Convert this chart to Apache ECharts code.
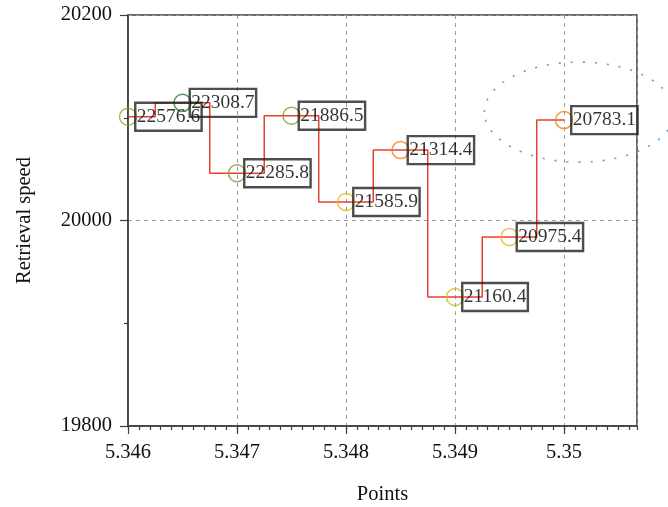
<!DOCTYPE html>
<html>
<head>
<meta charset="utf-8">
<script src="https://cdn.jsdelivr.net/npm/echarts@6/dist/echarts.min.js"></script>
<style>
  html, body { margin: 0; padding: 0; background: #ffffff; }
  #chart { width: 668px; height: 507px; }
</style>
</head>
<body>
<div id="chart"></div>
<script>
// Sampled points along the x axis and the retrieval speed measured at each
const points = [5.346, 5.3465, 5.347, 5.3475, 5.348, 5.3485, 5.349, 5.3495, 5.35];
const speeds = [20101, 20114.5, 20046, 20102, 20018, 20068.5, 19925.5, 19984, 20097.7];
// Value written in the box beside each point
const boxValues = [22576.6, 22308.7, 22285.8, 21886.5, 21585.9, 21314.4, 21160.4, 20975.4, 20783.1];
// Outline colour of each point's circle
const markerColors = ['#86a536', '#2f7a32', '#7d9e2c', '#7d9e2c', '#f2b01e', '#ef8222', '#c8bb24', '#f2b01e', '#ef8222'];

// Axis ranges and tick spacing
const xMin = 5.346, xMax = 5.35067, xStep = 0.001, xMinorStep = 0.0001;
const yMin = 19800, yMax = 20200, yStep = 200;

// Highlighted region (centre and radii in data units)
const regionCenter = [5.35014, 20105.5];
const regionRadius = [0.00087, 48.7];

const AXIS = '#3c3c3c';
const TEXT = '#000000';
const FONT = '"Liberation Serif", "DejaVu Serif", serif';

const chart = echarts.init(document.getElementById('chart'), null, { renderer: 'canvas' });

const scatterData = points.map((x, i) => ({
  value: [x, speeds[i]],
  itemStyle: { color: 'rgba(0,0,0,0)', borderColor: markerColors[i], borderWidth: 1.5 },
  label: { formatter: boxValues[i].toFixed(1) }
}));

chart.setOption({
  animation: false,
  backgroundColor: '#ffffff',
  grid: {
    left: 128, top: 15, right: 31, bottom: 81,
    outerBoundsMode: 'none', containLabel: false,
    show: true, borderColor: AXIS, borderWidth: 1.5, backgroundColor: 'transparent'
  },
  xAxis: [
    {
      type: 'value', min: xMin, max: xMax, interval: xStep,
      name: 'Points', nameLocation: 'middle', nameGap: 58,
      nameTextStyle: { fontFamily: FONT, fontSize: 20.5, color: '#111' },
      axisLine: { show: true, lineStyle: { color: AXIS, width: 1.5 } },
      axisTick: { show: true, inside: false, length: 8, lineStyle: { color: AXIS, width: 1.2 } },
      axisLabel: {
        fontFamily: FONT, fontSize: 20.5, color: '#111', margin: 16, showMaxLabel: false,
        formatter: v => String(+v.toFixed(4))
      },
      splitLine: { show: true, lineStyle: { color: '#9a9a9a', type: [4, 4], width: 1 } }
    },
    {
      // Fine tick marks every 0.0001 along the bottom axis
      type: 'value', min: xMin, max: xMax, interval: xMinorStep,
      position: 'bottom',
      axisLine: { show: false },
      axisTick: { show: true, inside: false, length: 4, lineStyle: { color: AXIS, width: 1.2 } },
      axisLabel: { show: false },
      splitLine: { show: false }
    }
  ],
  yAxis: {
    type: 'value', min: yMin, max: yMax, interval: yStep,
    name: 'Retrieval speed', nameLocation: 'middle', nameGap: 93,
    nameTextStyle: { fontFamily: FONT, fontSize: 20.5, color: '#111' },
    axisLine: { show: true, lineStyle: { color: AXIS, width: 1.5 } },
    axisTick: { show: true, inside: false, length: 8, lineStyle: { color: AXIS, width: 1.2 } },
    minorTick: { show: true, splitNumber: 2, length: 4, lineStyle: { color: AXIS, width: 1.2 } },
    axisLabel: { fontFamily: FONT, fontSize: 20.5, color: '#111', margin: 16, formatter: v => String(v) },
    splitLine: { show: true, lineStyle: { color: '#9a9a9a', type: [4, 4], width: 1 } }
  },
  series: [
    {
      type: 'line', xAxisIndex: 0,
      data: points.map((x, i) => [x, speeds[i]]),
      step: 'middle', showSymbol: false, symbol: 'none',
      lineStyle: { color: '#e8402e', width: 1.5 },
      z: 3
    },
    {
      type: 'scatter', xAxisIndex: 0,
      data: scatterData,
      symbol: 'circle', symbolSize: 17,
      label: {
        show: true, position: 'right', distance: -2,
        fontFamily: FONT, fontSize: 19.5, color: TEXT,
        borderColor: '#222222', borderWidth: 1.2,
        backgroundColor: 'transparent',
        padding: [4, 1.5, 4, 1.5], lineHeight: 20
      },
      z: 4
    }
  ]
});

// Dotted ellipse marking the region around the last point
const c = chart.convertToPixel({ xAxisIndex: 0, yAxisIndex: 0 }, regionCenter);
const e = chart.convertToPixel({ xAxisIndex: 0, yAxisIndex: 0 },
  [regionCenter[0] + regionRadius[0], regionCenter[1] + regionRadius[1]]);
chart.setOption({
  graphic: [{
    type: 'ellipse',
    shape: { cx: c[0], cy: c[1], rx: Math.abs(e[0] - c[0]), ry: Math.abs(c[1] - e[1]) },
    style: { fill: 'none', stroke: '#5b9bd8', lineWidth: 1.6, lineDash: [2, 10] },
    silent: true, z: 10
  }]
});
</script>
</body>
</html>
